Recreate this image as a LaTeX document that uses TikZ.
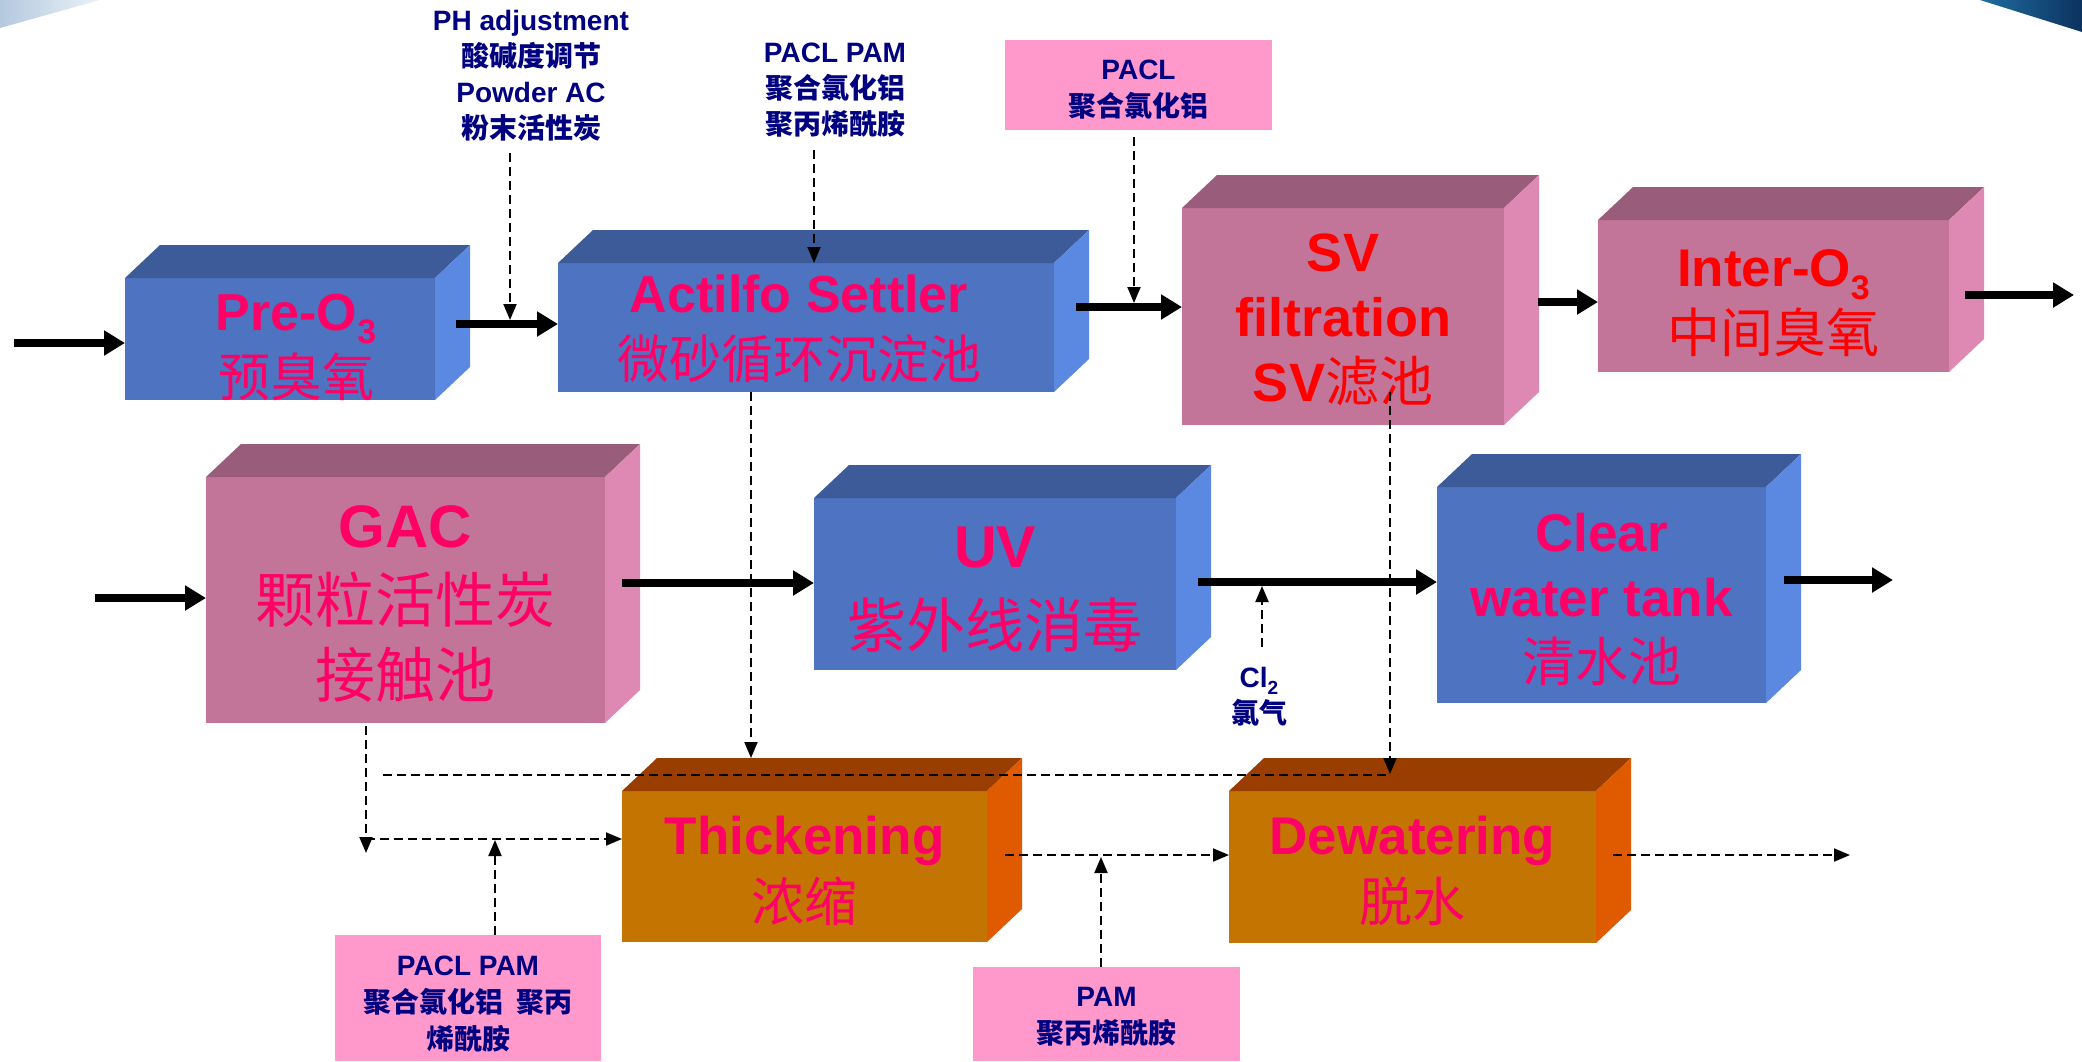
\documentclass[tikz,border=0pt]{standalone}
\usepackage{fontspec}
\setmainfont{Liberation Sans}
\newfontfamily\cjk{Noto Sans CJK SC}
\usetikzlibrary{arrows.meta,calc}
\definecolor{bfront}{HTML}{4E74C1}
\definecolor{btop}{HTML}{3D5B98}
\definecolor{bside}{HTML}{5B88E0}
\definecolor{pfront}{HTML}{C27599}
\definecolor{ptop}{HTML}{995C7A}
\definecolor{pside}{HTML}{DE89B3}
\definecolor{ofront}{HTML}{C47400}
\definecolor{otop}{HTML}{993D00}
\definecolor{oside}{HTML}{E05B00}
\definecolor{ttext}{HTML}{FF0066}
\definecolor{rtext}{HTML}{FF0000}
\definecolor{ntext}{HTML}{000080}
\definecolor{lbox}{HTML}{FF99CC}
\definecolor{swlA}{HTML}{B4C8DE}
\definecolor{swlB}{HTML}{EBF2F8}
\definecolor{swrA}{HTML}{1E6EA0}
\definecolor{swrB}{HTML}{0C325F}
\newcommand\osub[1]{\raisebox{-0.25em}{\fontsize{34}{34}\selectfont #1}}
\newcommand\cubesides[3]{%
  \fill[#2] (#1.north west) -- ++(35,-33) -- ($(#1.north east)+(35,-33)$) -- (#1.north east) -- cycle;
  \fill[#3] (#1.north east) -- ++(35,-33) -- ($(#1.south east)+(35,-33)$) -- (#1.south east) -- cycle;}
\begin{document}
\begin{tikzpicture}[x=1pt,y=-1pt,
  box/.style={rectangle, inner sep=0pt, outer sep=0pt},
  bluebox/.style={box, fill=bfront},
  pinkbox/.style={box, fill=pfront},
  orangebox/.style={box, fill=ofront},
  boxtext/.style={align=center, text=ttext, inner sep=0pt},
  lab/.style={align=center, text=ntext, inner sep=0pt, font=\fontsize{28}{36}\selectfont\bfseries},
  labbox/.style={rectangle, fill=lbox, inner sep=0pt, outer sep=0pt},
  labtext/.style={lab, font=\fontsize{28}{37}\selectfont\bfseries},
  big/.style={line width=8pt, -{Triangle[length=21pt,width=24pt]}},
  dsh/.style={line width=2pt, dash pattern=on 9pt off 5pt, -{Triangle[length=16pt,width=13pt]}},
  dshl/.style={line width=2pt, dash pattern=on 9pt off 5pt}]
\useasboundingbox (0,0) rectangle (2082,1061);
\fill[white] (0,0) rectangle (2082,1061);
% corner decorations
\shade[left color=swlA, right color=swlB] (0,0) -- (100,0) -- (0,28) -- cycle;
\shade[left color=swrA, right color=swrB] (1980,0) -- (2082,0) -- (2082,32) -- cycle;

% ---- boxes ----
\node[bluebox, minimum width=310pt, minimum height=122pt] (pre) at (280,339) {};
\cubesides{pre}{btop}{bside}
\node[boxtext, font=\fontsize{52}{66}\selectfont\bfseries] (preT) at ($(pre.center)+(16,8)$)
  {Pre-O\osub{3}\\{\cjk\mdseries 预臭氧}};
\node[bluebox, minimum width=496pt, minimum height=129pt] (act) at (806,327.5) {};
\cubesides{act}{btop}{bside}
\node[boxtext, font=\fontsize{52}{66}\selectfont\bfseries] (actT) at ($(act.center)+(-7,1)$)
  {Actilfo Settler\\{\cjk\mdseries 微砂循环沉淀池}};
\node[pinkbox, minimum width=322pt, minimum height=217pt] (sv) at (1343,316.5) {};
\cubesides{sv}{ptop}{pside}
\node[boxtext, text=rtext, font=\fontsize{54}{65}\selectfont\bfseries] (svT) at ($(sv.center)+(0,3)$)
  {SV\\filtration\\SV{\cjk\mdseries 滤池}};
\node[pinkbox, minimum width=351pt, minimum height=152pt] (inter) at (1773.5,296) {};
\cubesides{inter}{ptop}{pside}
\node[boxtext, text=rtext, font=\fontsize{53}{66}\selectfont\bfseries] (interT) at ($(inter.center)+(0,7)$)
  {Inter-O\osub{3}\\{\cjk\mdseries 中间臭氧}};
\node[pinkbox, minimum width=399pt, minimum height=246pt] (gac) at (405.5,600) {};
\cubesides{gac}{ptop}{pside}
\node[boxtext, font=\fontsize{60}{75}\selectfont\bfseries] (gacT) at ($(gac.center)+(0,4)$)
  {GAC\\{\cjk\mdseries 颗粒活性炭}\\{\cjk\mdseries 接触池}};
\node[bluebox, minimum width=362pt, minimum height=172pt] (uv) at (995,584) {};
\cubesides{uv}{btop}{bside}
\node[boxtext, font=\fontsize{59}{80}\selectfont\bfseries] (uvT) at ($(uv.center)+(0,6)$)
  {UV\\{\cjk\mdseries 紫外线消毒}};
\node[bluebox, minimum width=329pt, minimum height=216pt] (clear) at (1601.5,595) {};
\cubesides{clear}{btop}{bside}
\node[boxtext, font=\fontsize{53}{65}\selectfont\bfseries] (clearT) at ($(clear.center)+(0,4)$)
  {Clear\\water tank\\{\cjk\mdseries 清水池}};
\node[orangebox, minimum width=365pt, minimum height=151pt] (thick) at (804.5,866.5) {};
\cubesides{thick}{otop}{oside}
\node[boxtext, font=\fontsize{53}{67}\selectfont\bfseries] (thickT) at ($(thick.center)+(0,4)$)
  {Thickening\\{\cjk\mdseries 浓缩}};
\node[orangebox, minimum width=367pt, minimum height=152pt] (dew) at (1412.5,867) {};
\cubesides{dew}{otop}{oside}
\node[boxtext, font=\fontsize{53}{67}\selectfont\bfseries] (dewT) at ($(dew.center)+(0,4)$)
  {Dewatering\\{\cjk\mdseries 脱水}};

% ---- chemical labels ----
\node[lab] (phl) at (531,76) {PH adjustment\\{\cjk 酸碱度调节}\\Powder AC\\{\cjk 粉末活性炭}};
\node[lab] (pp1) at (835,90) {PACL PAM\\{\cjk 聚合氯化铝}\\{\cjk 聚丙烯酰胺}};
\node[labbox, minimum width=267pt, minimum height=90pt] (pacl) at (1138.5,85) {};
\node[labtext] (paclT) at ($(pacl.center)+(0,5)$) {PACL\\{\cjk 聚合氯化铝}};
\node[lab] (cl) at (1259,697) {Cl\raisebox{-0.25em}{\fontsize{19}{19}\selectfont 2}\\{\cjk 氯气}};
\node[labbox, minimum width=266pt, minimum height=126pt] (pp2) at (468,998) {};
\node[labtext] (pp2T) at ($(pp2.center)+(0,6)$) {PACL PAM\\{\cjk 聚合氯化铝\ \ 聚丙}\\{\cjk 烯酰胺}};
\node[labbox, minimum width=267pt, minimum height=94pt] (pam) at (1106.5,1014) {};
\node[labtext] (pamT) at ($(pam.center)+(0,3)$) {PAM\\{\cjk 聚丙烯酰胺}};

% ---- main flow ----
\coordinate (in1) at (14,343);
\draw[big] (in1) -- (in1 -| pre.west);
\coordinate (a1) at (456,324);
\draw[big] (a1) -- (a1 -| act.west);
\coordinate (a2) at (1076,307);
\draw[big] (a2) -- (a2 -| sv.west);
\coordinate (a3) at (1538,302);
\draw[big] (a3) -- (a3 -| inter.west);
\coordinate (a4) at (1965,295);
\coordinate (o1) at (2074,295);
\draw[big] (a4) -- (o1);
\coordinate (in2) at (95,598);
\draw[big] (in2) -- (in2 -| gac.west);
\coordinate (a5) at (622,583);
\draw[big] (a5) -- (a5 -| uv.west);
\coordinate (a6) at (1198,582);
\draw[big] (a6) -- (a6 -| clear.west);
\coordinate (a7) at (1784,580);
\coordinate (o2) at (1893,580);
\draw[big] (a7) -- (o2);

% ---- chemical dosing ----
\coordinate (ph) at (510,153);
\draw[dsh] (ph) -- ($(ph |- a1)+(0,-4)$);
\coordinate (pp1a) at (814,150);
\draw[dsh] (pp1a) -- (pp1a |- act.north);
\coordinate (pcl) at (1134,137);
\draw[dsh] (pcl) -- ($(pcl |- a2)+(0,-4)$);
\coordinate (cla) at (1262,647);
\draw[dsh] (cla) -- ($(cla |- a6)+(0,4)$);

% ---- sludge lines ----
\coordinate (thtop) at ($(thick.north)+(0,-33)$);
\coordinate (s1) at (751,392);
\draw[dsh] (s1) -- (s1 |- thtop);
\coordinate (s2) at (1390,392);
\coordinate (s2e) at (1390,774);
\draw[dsh] (s2) -- (s2e);
\coordinate (h2) at (1386,775);
\coordinate (h1) at (381,775);
\draw[dshl] (h2) -- (h1);
\coordinate (g1) at (366,726);
\coordinate (g2) at (366,853);
\draw[dsh] (g1) -- (g2);
\coordinate (g3) at (366,839);
\draw[dsh] (g3) -- (g3 -| thick.west);
\coordinate (pp2a) at ($(pp2.north)+(27,0)$);
\draw[dsh] (pp2a) -- ($(pp2a |- g3)+(0,1)$);
\coordinate (t1) at (1005,855);
\draw[dsh] (t1) -- (t1 -| dew.west);
\coordinate (pma) at ($(pam.north)+(-5.5,0)$);
\draw[dsh] (pma) -- ($(pma |- t1)+(0,2)$);
\coordinate (t2) at (1613,855);
\coordinate (o3) at (1850,855);
\draw[dsh] (t2) -- (o3);
\end{tikzpicture}
\end{document}
